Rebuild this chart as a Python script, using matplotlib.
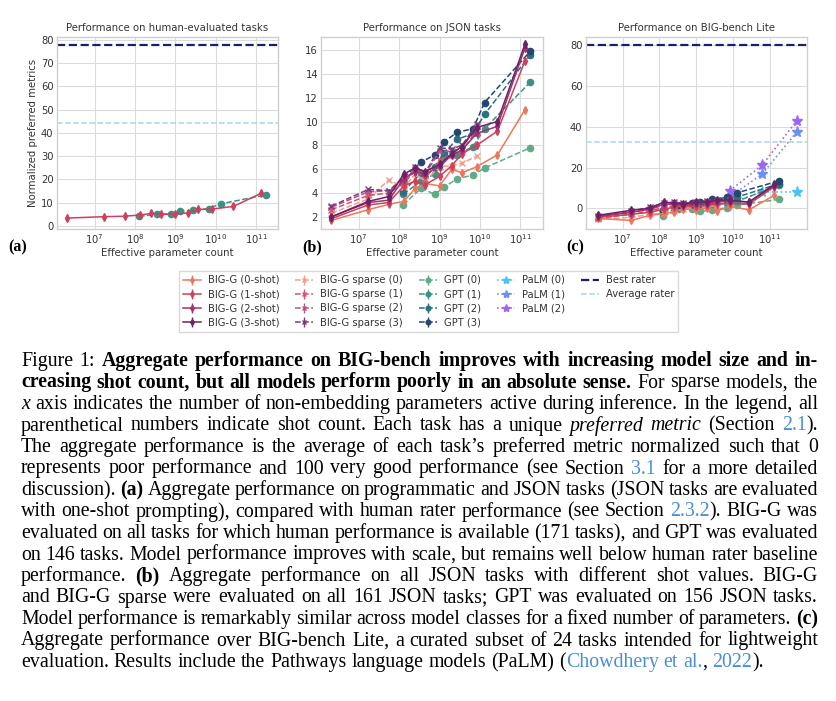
import numpy as np
import matplotlib
matplotlib.use("Agg")
import matplotlib.pyplot as plt
from matplotlib.lines import Line2D
from matplotlib.transforms import IdentityTransform

# ---------------- data ----------------
BIGG_PARAMS = [2.1e6, 1.7e7, 5.5e7, 1.3e8, 2.5e8, 4.4e8, 1.0e9, 2.0e9, 3.6e9, 8.2e9, 2.7e10, 1.3e11]
SPARSE_PARAMS = [2.1e6, 1.7e7, 5.5e7, 1.3e8, 2.5e8, 4.4e8, 1.0e9, 2.0e9, 3.6e9, 8.2e9]
GPT_PARAMS = [1.25e8, 3.5e8, 7.6e8, 1.3e9, 2.7e9, 6.7e9, 1.3e10, 1.75e11]
PALM_PARAMS = [8e9, 6.2e10, 5.4e11]

# (a) human-evaluated tasks
HUMAN_BIGG = [3.3, 3.9, 4.1, 4.6, 5.3, 5.0, 5.1, 5.5, 7.0, 7.2, 8.3, 13.9]
HUMAN_GPT = [4.0, 4.9, 4.9, 6.3, 6.6, 7.4, 9.4, 13.3]
HUMAN_BEST = 77.6
HUMAN_AVG = 44.0

# (b) JSON tasks
JSON_BIGG = [
    [1.7, 2.6, 3.05, 3.3, 4.4, 4.8, 4.6, 6.0, 5.7, 6.2, 7.2, 11.0],
    [1.85, 3.0, 3.2, 4.6, 5.0, 4.7, 5.4, 6.3, 7.3, 8.0, 9.2, 15.1],
    [2.0, 3.2, 3.4, 5.2, 5.8, 5.6, 6.2, 7.2, 7.6, 9.0, 9.6, 16.2],
    [2.0, 3.3, 3.7, 5.6, 6.1, 5.8, 6.4, 7.3, 7.9, 9.5, 10.0, 16.5],
]
JSON_SPARSE = [
    [2.3, 3.5, 5.1, 4.5, 5.6, 5.0, 6.2, 6.3, 6.5, 7.1],
    [2.6, 3.8, 4.0, 4.8, 5.9, 5.2, 6.8, 7.2, 7.6, 9.2],
    [2.8, 4.1, 4.2, 5.0, 6.0, 5.6, 7.5, 7.5, 7.8, 9.6],
    [2.9, 4.3, 4.2, 5.3, 6.2, 5.7, 7.8, 7.7, 8.0, 9.8],
]
JSON_GPT = [
    [3.0, 4.4, 3.9, 4.5, 5.2, 5.5, 6.1, 7.8],
    [3.9, 5.0, 5.6, 7.1, 7.2, 7.9, 9.4, 13.3],
    [4.1, 5.7, 6.2, 7.4, 8.5, 9.0, 10.6, 15.6],
    [4.9, 6.6, 7.2, 8.3, 9.1, 9.4, 11.6, 15.9],
]

# (c) BIG-bench Lite
LITE_BIGG = [
    [-5.0, -6.0, -3.5, -2.6, -2.0, -0.3, -0.8, 0.2, -1.5, 1.0, -0.8, 6.3],
    [-4.5, -3.0, -2.0, -0.5, 0.5, 1.0, 1.0, 1.5, 2.0, 2.5, 2.0, 10.5],
    [-4.0, -2.0, -0.5, 2.0, 2.0, 1.5, 2.5, 2.5, 3.5, 3.5, 3.0, 11.0],
    [-3.5, -1.0, 0.0, 3.0, 2.5, 2.0, 3.0, 3.0, 4.0, 4.0, 3.0, 11.7],
]
LITE_SPARSE = [
    [-5.5, -4.5, -3.0, -2.5, -1.5, -0.5, 0.5, 0.5, 1.5, 2.5],
    [-5.0, -3.0, -1.5, 0.5, 1.0, 1.5, 2.0, 2.5, 3.0, 3.5],
    [-4.5, -2.0, -0.5, 1.5, 2.0, 2.0, 2.5, 3.0, 3.5, 4.0],
    [-4.0, -1.5, 0.5, 2.5, 3.0, 2.5, 3.0, 3.5, 4.0, 4.5],
]
LITE_GPT = [
    [-4.0, -0.5, -0.5, -1.5, -1.0, 0.3, 1.5, 4.3],
    [-2.5, 0.0, 1.0, 1.5, 2.0, 2.5, 3.5, 11.3],
    [-1.5, 0.8, 1.8, 2.3, 3.5, 4.0, 5.5, 12.0],
    [-0.7, 1.0, 2.6, 3.0, 4.3, 5.3, 7.6, 13.4],
]
LITE_PALM = [
    [2.5, 8.0, 8.0],
    [5.5, 16.8, 37.5],
    [8.5, 21.2, 43.0],
]
LITE_BEST = 80.0
LITE_AVG = 32.6

ERR_A, ERR_B, ERR_C = 0.6, 0.15, 1.0

BIGG_LABELS = ["BIG-G (0-shot)", "BIG-G (1-shot)", "BIG-G (2-shot)", "BIG-G (3-shot)"]
SPARSE_LABELS = ["BIG-G sparse (0)", "BIG-G sparse (1)", "BIG-G sparse (2)", "BIG-G sparse (3)"]
GPT_LABELS = ["GPT (0)", "GPT (1)", "GPT (2)", "GPT (3)"]
PALM_LABELS = ["PaLM (0)", "PaLM (1)", "PaLM (2)"]
TITLES = ["Performance on human-evaluated tasks", "Performance on JSON tasks", "Performance on BIG-bench Lite"]

CAPTION = [
    [("Figure 1: ", "n"), ("Aggregate performance on BIG-bench improves with increasing model size and in-", "b")],
    [("creasing shot count, but all models perform poorly in an absolute sense.", "b"), (" For sparse models, the", "n")],
    [("x", "i"), (" axis indicates the number of non-embedding parameters active during inference. In the legend, all", "n")],
    [("parenthetical numbers indicate shot count. Each task has a unique ", "n"), ("preferred metric", "i"),
     (" (Section ", "n"), ("2.1", "l"), (").", "n")],
    [("The aggregate performance is the average of each task\u2019s preferred metric normalized such that 0", "n")],
    [("represents poor performance and 100 very good performance (see Section ", "n"), ("3.1", "l"),
     (" for a more detailed", "n")],
    [("discussion). ", "n"), ("(a)", "b"), (" Aggregate performance on programmatic and JSON tasks (JSON tasks are evaluated", "n")],
    [("with one-shot prompting), compared with human rater performance (see Section ", "n"), ("2.3.2", "l"),
     ("). BIG-G was", "n")],
    [("evaluated on all tasks for which human performance is available (171 tasks), and GPT was evaluated", "n")],
    [("on 146 tasks. Model performance improves with scale, but remains well below human rater baseline", "n")],
    [("performance. ", "n"), ("(b)", "b"), (" Aggregate performance on all JSON tasks with different shot values. BIG-G", "n")],
    [("and BIG-G sparse were evaluated on all 161 JSON tasks; GPT was evaluated on 156 JSON tasks.", "n")],
    [("Model performance is remarkably similar across model classes for a fixed number of parameters. ", "n"), ("(c)", "b")],
    [("Aggregate performance over BIG-bench Lite, a curated subset of 24 tasks intended for lightweight", "n")],
    [("evaluation. Results include the Pathways language models (PaLM) (", "n"), ("Chowdhery et al.", "l"),
     (", ", "n"), ("2022", "l"), (").", "n")],
]

# ---------------- style ----------------
BIGG_COLORS = ["#e9785f", "#cf405c", "#a5306f", "#6b2166"]
SPARSE_COLORS = ["#f0a08a", "#d8536a", "#b8528a", "#7d3a7a"]
GPT_COLORS = ["#62aa8a", "#3d9184", "#2a6f82", "#24476e"]
PALM_COLORS = ["#4cc4f2", "#6e8ff2", "#9c68f2"]
BEST_COLOR = "#1d1d6e"
AVG_COLOR = "#a9d6e5"
GRAY = "#333333"

plt.rcParams.update({
    "font.family": ["DejaVu Sans"],
    "axes.edgecolor": "#d0d0d0",
    "axes.linewidth": 1.0,
    "grid.color": "#dcdcdc",
    "grid.linewidth": 0.8,
    "xtick.major.size": 0,
    "ytick.major.size": 0,
    "xtick.minor.size": 0,
    "ytick.minor.size": 0,
    "xtick.color": GRAY,
    "ytick.color": GRAY,
    "xtick.labelsize": 7.2,
    "ytick.labelsize": 7.2,
    "xtick.major.pad": 2.5,
    "ytick.major.pad": 2.5,
    "text.color": GRAY,
    "axes.labelcolor": GRAY,
})

W, H = 837, 701
fig = plt.figure(figsize=(W / 100, H / 100), dpi=100)


def px_axes(left, top, right, bottom):
    return fig.add_axes([left / W, 1 - bottom / H, (right - left) / W, (bottom - top) / H])


ax_a = px_axes(57, 37, 278, 229)
ax_b = px_axes(321.5, 37, 543, 229)
ax_c = px_axes(586, 37, 807, 229)


def plot_series(ax, x, y, color, marker, ls, err, ms, label=None, lw=1.1, mew=1.0):
    return ax.errorbar(x, y, yerr=err, color=color, marker=marker, ls=ls, lw=lw, ms=ms,
                       elinewidth=1.0, capsize=0, label=label, mew=mew)


def plot_palm(ax, x, y, color, label=None):
    return ax.plot(x, y, color=color, marker="*", ls=":", lw=1.2, ms=8, label=label)[0]


# (a)
plot_series(ax_a, GPT_PARAMS, HUMAN_GPT, GPT_COLORS[1], "o", "--", ERR_A, 4.5)
plot_series(ax_a, BIGG_PARAMS, HUMAN_BIGG, BIGG_COLORS[1], "d", "-", ERR_A, 4)
ax_a.axhline(HUMAN_BEST, color=BEST_COLOR, ls="--", lw=1.6)
ax_a.axhline(HUMAN_AVG, color=AVG_COLOR, ls="--", lw=1.1)

# (b)
for i in range(4):
    plot_series(ax_b, GPT_PARAMS, JSON_GPT[i], GPT_COLORS[i], "o", "--", ERR_B, 4.5)
for i in range(4):
    plot_series(ax_b, SPARSE_PARAMS, JSON_SPARSE[i], SPARSE_COLORS[i], "x", "--", ERR_B, 4)
for i in range(4):
    plot_series(ax_b, BIGG_PARAMS, JSON_BIGG[i], BIGG_COLORS[i], "d", "-", ERR_B, 4)

# (c)
handles = {}
for i in range(4):
    handles[GPT_LABELS[i]] = plot_series(ax_c, GPT_PARAMS, LITE_GPT[i], GPT_COLORS[i], "o", "--", ERR_C, 4.5)
for i in range(4):
    handles[SPARSE_LABELS[i]] = plot_series(ax_c, SPARSE_PARAMS, LITE_SPARSE[i], SPARSE_COLORS[i], "x", "--", ERR_C, 4)
for i in range(4):
    handles[BIGG_LABELS[i]] = plot_series(ax_c, BIGG_PARAMS, LITE_BIGG[i], BIGG_COLORS[i], "d", "-", ERR_C, 4)
for i in range(3):
    handles[PALM_LABELS[i]] = plot_palm(ax_c, PALM_PARAMS, LITE_PALM[i], PALM_COLORS[i])
handles["Best rater"] = ax_c.axhline(LITE_BEST, color=BEST_COLOR, ls="--", lw=1.6)
handles["Average rater"] = ax_c.axhline(LITE_AVG, color=AVG_COLOR, ls="--", lw=1.1)

limits = [
    (ax_a, (1.17e6, 3.44e11), (-1.4, 81.2), [0, 10, 20, 30, 40, 50, 60, 70, 80]),
    (ax_b, (1.19e6, 3.63e11), (0.98, 17.1), [2, 4, 6, 8, 10, 12, 14, 16]),
    (ax_c, (1.01e6, 1.02e12), (-10.2, 84.1), [0, 20, 40, 60, 80]),
]
for (ax, xl, yl, yt), title in zip(limits, TITLES):
    ax.set_xscale("log")
    ax.set_xlim(*xl)
    ax.set_ylim(*yl)
    ax.set_yticks(yt)
    ax.set_xticks([1e7, 1e8, 1e9, 1e10, 1e11])
    ax.xaxis.set_minor_locator(matplotlib.ticker.NullLocator())
    ax.grid(True, which="major")
    ax.set_axisbelow(True)
    ax.set_title(title, fontsize=7.3, color=GRAY, pad=4)
    ax.set_xlabel("Effective parameter count", fontsize=7.3, labelpad=1)
    for s in ax.spines.values():
        s.set_color("#d0d0d0")

ax_a.set_ylabel("Normalized preferred metrics", fontsize=7.3, labelpad=2)

for lab, xpx in zip(["(a)", "(b)", "(c)"], [8, 302, 566]):
    fig.text(xpx, H - 251, lab, transform=IdentityTransform(), fontsize=11.5,
             fontweight="bold", family="Liberation Serif", color="black", va="baseline")

# legend
order = BIGG_LABELS + SPARSE_LABELS + GPT_LABELS + PALM_LABELS + ["Best rater", "Average rater"]
hl = [handles[k] for k in order] + [Line2D([], [], alpha=0)]
ll = order + [""]
leg = fig.legend(hl, ll, ncol=5, loc="upper center", bbox_to_anchor=(428.5 / W, 1 - 266 / H),
                 fontsize=7.2, frameon=True, fancybox=False, edgecolor="#d0d0d0",
                 handlelength=1.8, handletextpad=0.7, columnspacing=1.6, labelspacing=0.42,
                 borderpad=0.4, markerscale=0.75)
for t in leg.get_texts():
    t.set_color(GRAY)

# ---------------- caption (justified) ----------------
CAP_SIZE = 14.3
CAP_L, CAP_R = 21, 818
CAP_Y0, CAP_DY = 366, 21.5
LINK = "#4a8fd6"

fig.canvas.draw()
renderer = fig.canvas.get_renderer()


def props(style):
    p = dict(fontsize=CAP_SIZE, family="Liberation Serif", color="black")
    if style == "b":
        p["fontweight"] = "bold"
    if style == "i":
        p["fontstyle"] = "italic"
    if style == "l":
        p["color"] = LINK
    return p


def width_of(s, style):
    t = fig.text(0, 0, s, transform=IdentityTransform(), **props(style))
    w = t.get_window_extent(renderer).width
    t.remove()
    return w


space_w = width_of("a a", "n") - width_of("aa", "n")

for li, line in enumerate(CAPTION):
    words, cur = [], []
    for text, style in line:
        parts = text.split(" ")
        for k, part in enumerate(parts):
            if k > 0 and cur:
                words.append(cur)
                cur = []
            if part:
                cur.append((part, style))
    if cur:
        words.append(cur)
    widths = [[width_of(p, s) for p, s in w] for w in words]
    total = sum(sum(w) for w in widths)
    last = li == len(CAPTION) - 1
    gap = space_w if last else (CAP_R - CAP_L - total) / max(len(words) - 1, 1)
    x = CAP_L
    y = H - (CAP_Y0 + li * CAP_DY)
    for w, ws in zip(words, widths):
        for (p, s), pw in zip(w, ws):
            fig.text(x, y, p, transform=IdentityTransform(), va="baseline", **props(s))
            x += pw
        x += gap

fig.savefig("out.png", dpi=100)
